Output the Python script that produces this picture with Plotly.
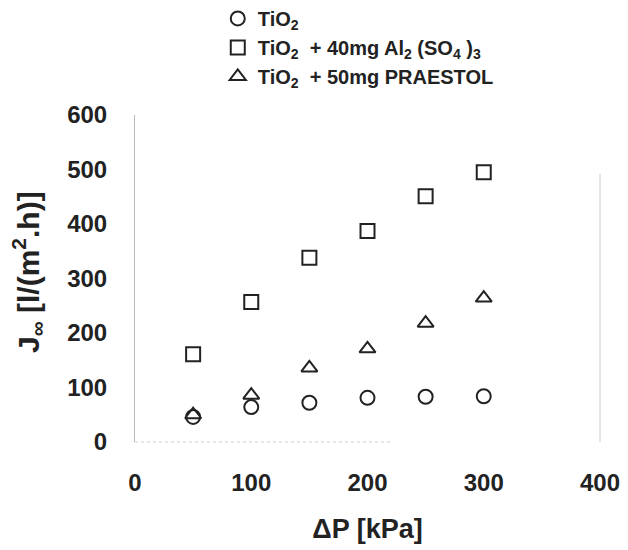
import plotly.graph_objects as go

dp = [50, 100, 150, 200, 250, 300]
tio2 = [46, 64, 72, 81, 83, 84]
tio2_al = [161, 257, 338, 387, 451, 495]
tio2_pr = [50, 86, 136, 171, 218, 264]

names = ["TiO<sub>2</sub>",
         "TiO<sub>2</sub>  + 40mg Al<sub>2</sub> (SO<sub>4</sub> )<sub>3</sub>",
         "TiO<sub>2</sub>  + 50mg PRAESTOL"]
symbols = ["circle-open", "square-open", "triangle-up-open"]
series = [tio2, tio2_al, tio2_pr]

fig = go.Figure()
for n, s, ys in zip(names, symbols, series):
    fig.add_trace(go.Scatter(x=dp, y=ys, mode="markers", name=n,
                             marker=dict(symbol=s, size=14, color="#222",
                                         line=dict(width=2, color="#222"))))

font = dict(family="Liberation Sans, Arial, sans-serif", color="#222", weight="bold")
fig.update_layout(
    width=620, height=542,
    margin=dict(l=127, r=28, t=107, b=108, autoexpand=False),
    paper_bgcolor="white", plot_bgcolor="white",
    font=dict(size=24, **font),
    showlegend=True,
    legend=dict(x=0.178, y=1.355, xanchor="left", yanchor="top",
                font=dict(size=20, **font), bgcolor="rgba(0,0,0,0)",
                itemwidth=30, tracegroupgap=0),
    xaxis=dict(range=[0, 400], tickvals=[0, 100, 200, 300, 400],
               showgrid=False, zeroline=False, showline=False,
               ticks="", ticklabelstandoff=24, automargin=False,
               title=dict(text="ΔP [kPa]", standoff=24, font=dict(size=27, **font))),
    yaxis=dict(range=[0, 600], tickvals=[0, 100, 200, 300, 400, 500, 600],
               showgrid=False, zeroline=False, showline=True,
               linecolor="#bbb", linewidth=1, ticks="", automargin=False,
               ticklabelstandoff=22),
)
fig.add_annotation(text="J<sub>∞</sub> [l/(m<sup>2</sup>.h)]", textangle=-90,
                   xref="paper", yref="paper", x=-0.23, y=0.52,
                   xanchor="center", yanchor="middle", showarrow=False,
                   font=dict(size=30, **font))
fig.add_shape(type="line", xref="paper", yref="paper", x0=1, x1=1, y0=0, y1=0.82,
              line=dict(color="#ccc", width=1))
fig.add_shape(type="line", xref="paper", yref="paper", x0=0, x1=0.55, y0=0, y1=0,
              line=dict(color="#ccc", width=1, dash="dot"))
fig.write_html("out.html")
